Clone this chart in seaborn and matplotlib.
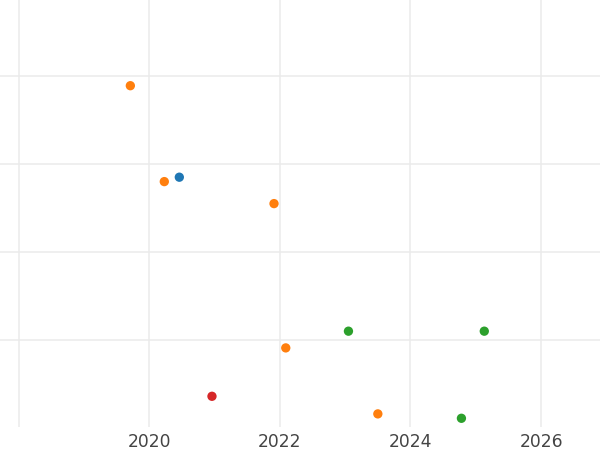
import matplotlib
matplotlib.use("Agg")
import matplotlib.pyplot as plt
import pandas as pd
import seaborn as sns

# values
years = [2019.71, 2020.23, 2020.46, 2021.91, 2023.05, 2025.13, 2022.09, 2020.96, 2023.50, 2024.78]
values = [3.89, 2.80, 2.85, 2.55, 1.10, 1.10, 0.91, 0.36, 0.16, 0.11]
groups = ["B", "B", "A", "B", "C", "C", "B", "D", "B", "C"]
group_order = ["A", "B", "C", "D"]
x_ticks = [2018, 2020, 2022, 2024, 2026]
x_tick_labels = ["", "2020", "2022", "2024", "2026"]
y_ticks = [1, 2, 3, 4]

df = pd.DataFrame({"year": years, "value": values, "group": groups})

sns.set_theme(style="whitegrid")
plt.rcParams["font.family"] = ["DejaVu Sans"]

fig = plt.figure(figsize=(6, 4.5), dpi=100)
ax = fig.add_axes([0, 23 / 450, 1, 427 / 450])

sns.scatterplot(data=df, x="year", y="value", hue="group", hue_order=group_order,
                palette="tab10", s=45, linewidth=0, legend=False, ax=ax, zorder=3)

ax.set_xlim(2017.714, 2026.902)
ax.set_ylim(0.011, 4.864)
ax.set_xticks(x_ticks)
ax.set_xticklabels(x_tick_labels)
ax.set_yticks(y_ticks)
ax.set_yticklabels([])
ax.set_xlabel("")
ax.set_ylabel("")
ax.grid(True, color="#ebebeb", linewidth=1.1)
ax.tick_params(axis="x", length=0, pad=4, labelsize=12.3, labelcolor="#444444")
ax.tick_params(axis="y", length=0)
for sp in ax.spines.values():
    sp.set_visible(False)

fig.savefig("out.png", dpi=100, facecolor="white")
